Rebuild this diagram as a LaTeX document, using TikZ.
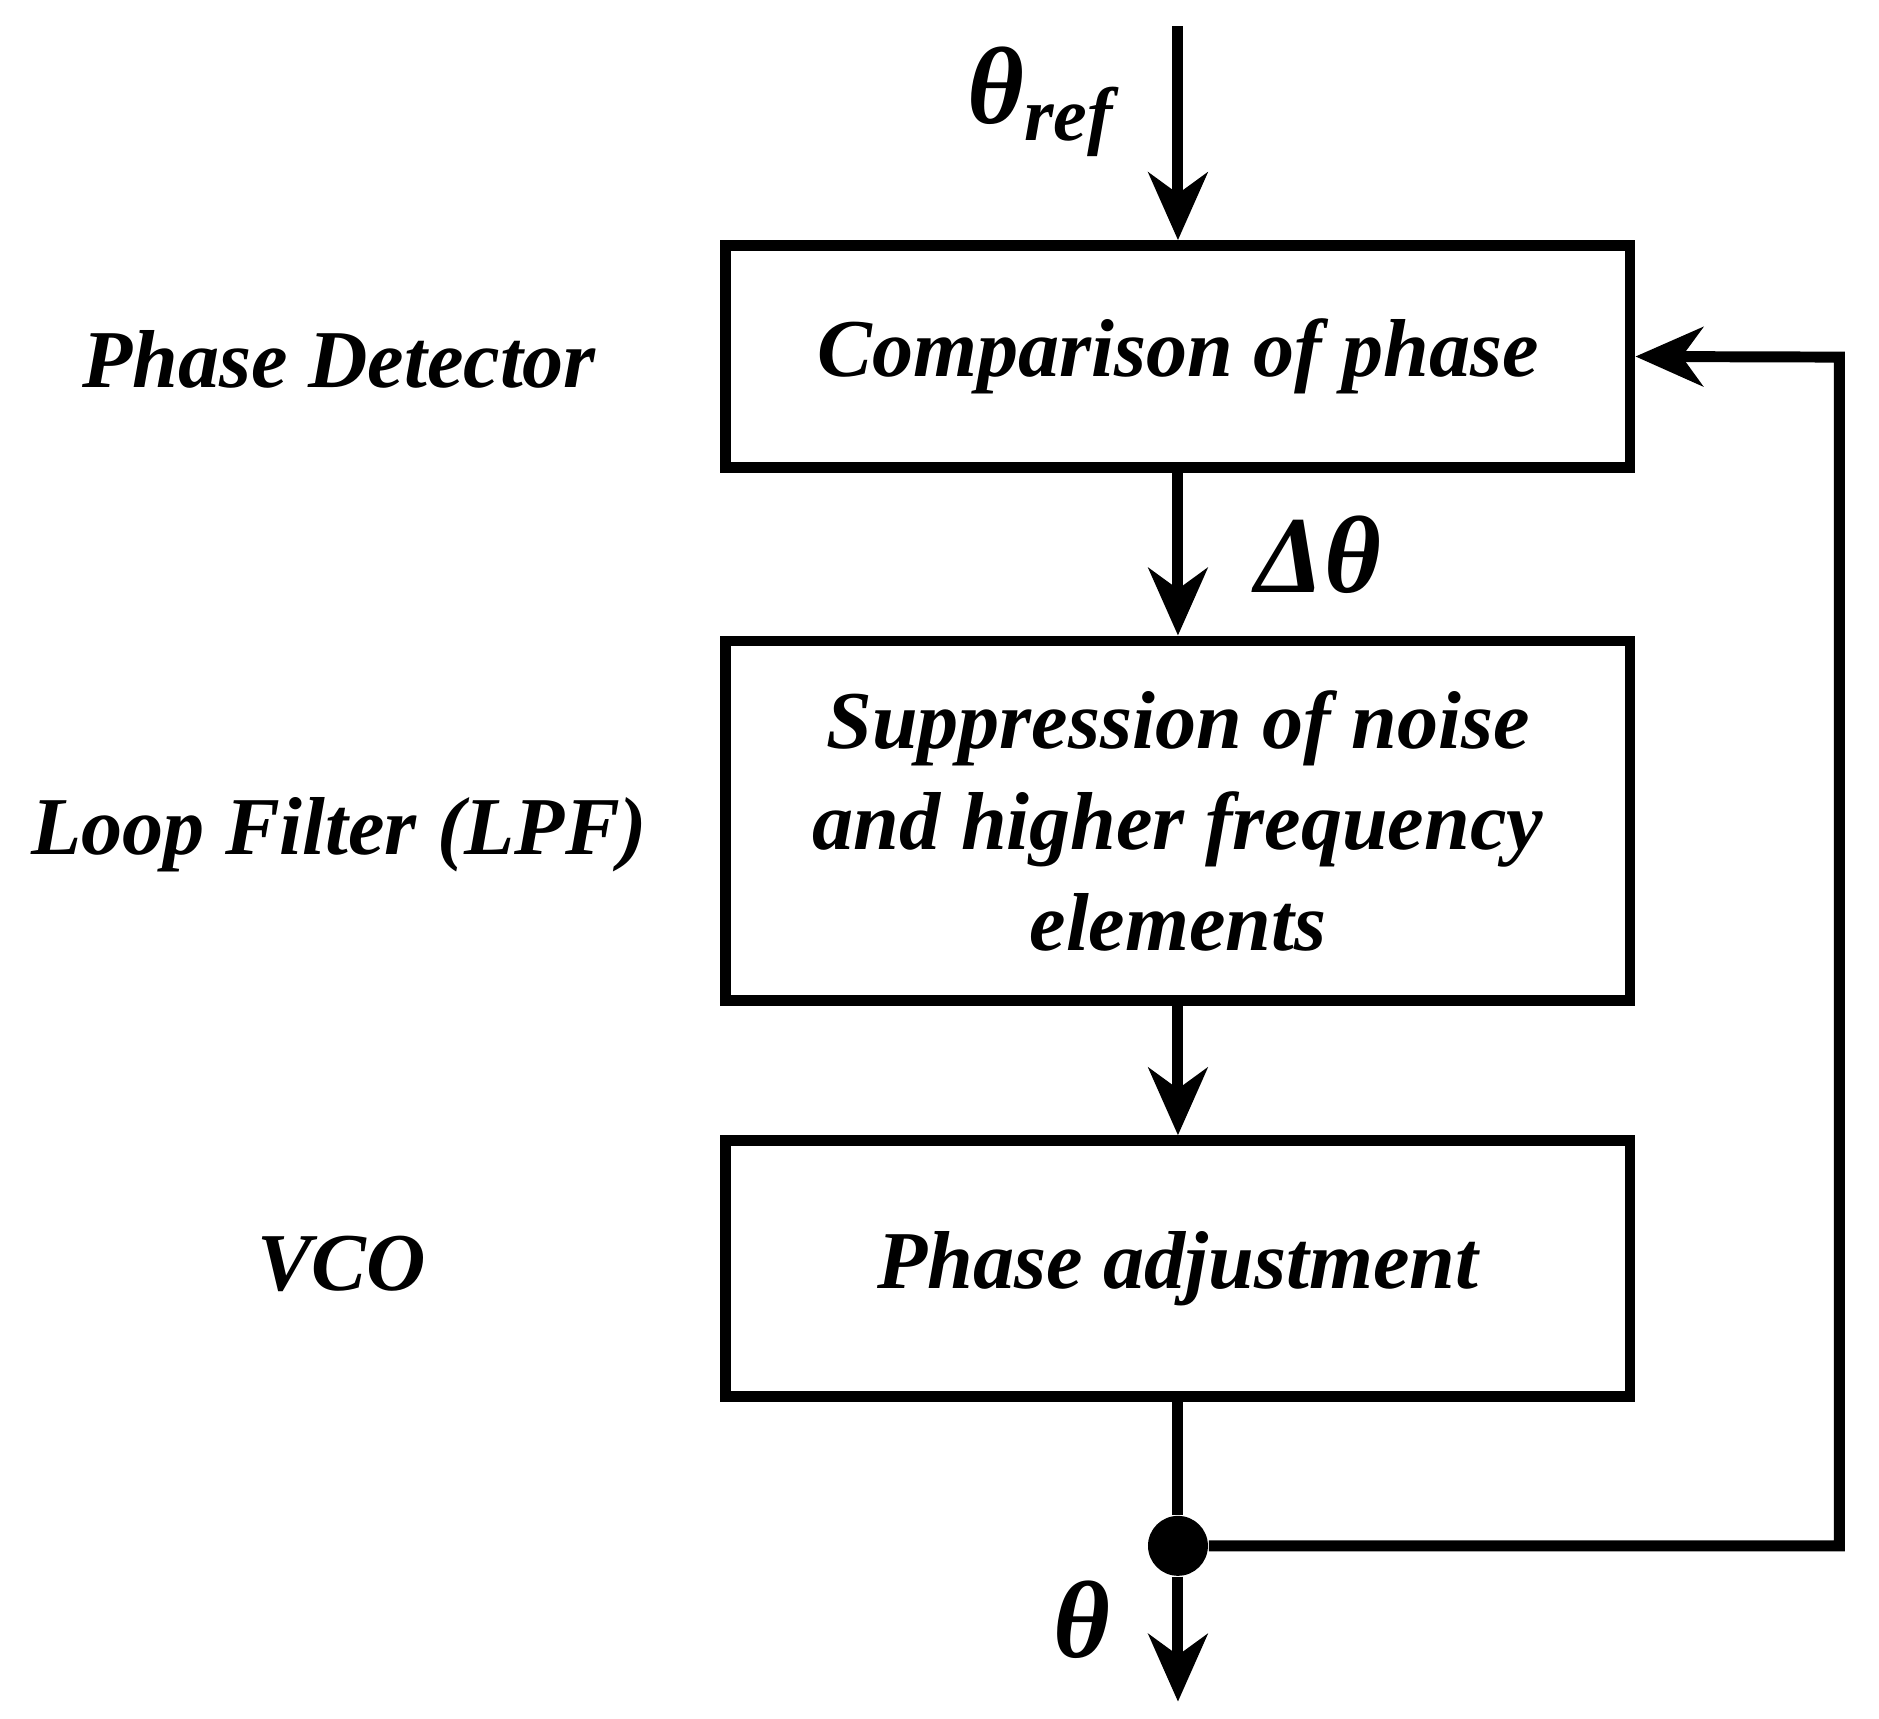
\documentclass[tikz,border=0pt]{standalone}
\usepackage{fontspec}
\setmainfont{Liberation Serif}
\usetikzlibrary{arrows.meta}
\begin{document}
\begin{tikzpicture}[x=0.01cm,y=-0.01cm,
  lw/.style={line width=2.6pt},
  txt/.style={font=\fontsize{19.5pt}{24pt}\selectfont\bfseries\itshape,align=center},
  big/.style={font=\fontsize{26pt}{30pt}\selectfont\bfseries\itshape},
  arr/.style={lw,-{Stealth[length=16pt,width=14pt,inset=5pt]}}]
\useasboundingbox (0,0) rectangle (1568,1434);
\node[draw,lw,minimum width=7.54cm,minimum height=1.85cm,txt] (b1) at (983,297.5) {Comparison of phase};
\node[draw,lw,minimum width=7.54cm,minimum height=3.0cm,txt] (b2) at (983,685) {Suppression of noise\\and higher frequency\\elements};
\node[draw,lw,minimum width=7.54cm,minimum height=2.13cm,txt] (b3) at (983,1058.5) {Phase adjustment};
\coordinate (in) at (983,22);
\node[circle,fill,minimum size=0.5cm,inner sep=0] (dot) at (983,1290) {};
\coordinate (out) at (983,1420);
\coordinate (c1) at (1535,1290);
\coordinate (c2) at (1535,298);
\draw[arr] (in) -- (b1.north);
\draw[arr] (b1.south) -- (b2.north);
\draw[arr] (b2.south) -- (b3.north);
\draw[lw] (b3.south) -- (dot);
\draw[arr] (dot) -- (out);
\draw[arr] (dot) -- (c1) -- (c2) -- (b1.east);
\node[big] (tr) at (868,85) {θ\raisebox{-0.35ex}{\fontsize{18pt}{20pt}\selectfont ref}};
\node[big] (dt) at (1100,463) {Δθ};
\node[big] (th) at (903,1352) {θ};
\node[txt] (l1) at (283,300) {Phase Detector};
\node[txt] (l2) at (283,697) {Loop Filter (LPF)};
\node[txt] (l3) at (285,1055) {VCO};
\end{tikzpicture}
\end{document}
